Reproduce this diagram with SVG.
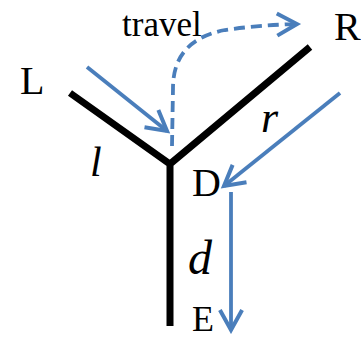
<svg xmlns="http://www.w3.org/2000/svg" width="361" height="337" viewBox="0 0 361 337">
<defs>
<style>
.arm{stroke:#000;stroke-width:7;fill:none;stroke-linecap:butt;stroke-linejoin:miter}
.blue{stroke:#4a7ebb;stroke-width:3.8;fill:none}
.dash{stroke-dasharray:11,6}
</style>
<marker id="ah" viewBox="0 0 12 12" refX="10" refY="6" markerWidth="7" markerHeight="7" orient="auto" markerUnits="strokeWidth">
<path d="M1,1 L10,6 L1,11" fill="none" stroke="#4a7ebb" stroke-width="1.8"/>
</marker>
</defs>
<g id="junction">
<path class="arm" d="M70,93 L170,164 L310,47 M170,164 L170,326"/>
</g>
<g id="connectors">
<path class="blue" d="M87,67 L167,131" marker-end="url(#ah)"/>
<path class="blue dash" d="M172,146 L173,88 Q173,40 225,30 Q260,25 297,24" marker-end="url(#ah)"/>
<path class="blue" d="M340,93 L224,186" marker-end="url(#ah)"/>
<path class="blue" d="M231,192 L231,330" marker-end="url(#ah)"/>
</g>
<g id="labels" font-family="Liberation Serif, Times New Roman, serif" fill="#000">
<text x="122" y="36" font-size="35">travel</text>
<text x="334" y="40" font-size="40">R</text>
<text x="20" y="94" font-size="40">L</text>
<text x="90" y="176" font-size="42" font-style="italic">l</text>
<text x="261" y="132" font-size="44" font-style="italic">r</text>
<text x="192" y="196" font-size="40">D</text>
<text x="188" y="274" font-size="48" font-style="italic">d</text>
<text x="192" y="331" font-size="36">E</text>
</g>
</svg>
